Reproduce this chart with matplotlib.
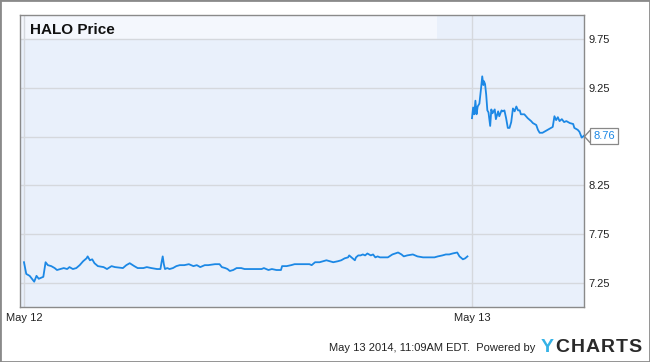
import matplotlib
matplotlib.use('Agg')
import matplotlib.pyplot as plt
from matplotlib.patches import Rectangle
from matplotlib.path import Path

plt.rcParams['font.family'] = ['Liberation Sans', 'DejaVu Sans']

# 数据：交易分钟数（从开盘算起）与价格
may12_min = [0, 2, 5, 7, 9, 11, 13, 15, 17, 19,
             21, 24, 27, 29, 32, 35, 38, 40, 43, 46,
             49, 52, 55, 56, 58, 60, 62, 65, 70, 73,
             77, 80, 87, 90, 93, 97, 100, 105, 108, 112,
             117, 120, 121, 122, 123, 124, 126, 128, 131, 134,
             137, 141, 145, 149, 152, 155, 159, 162, 168, 172,
             174, 177, 179, 181, 184, 187, 191, 194, 199, 204,
             209, 211, 213, 215, 218, 222, 226, 227, 231, 235,
             238, 242, 247, 251, 253, 256, 260, 263, 266, 269,
             272, 276, 279, 282, 285, 286, 289, 291, 292, 294,
             296, 298, 300, 302, 305, 307, 309, 311, 313, 316,
             320, 324, 329, 332, 334, 337, 342, 346, 351, 357,
             361, 364, 368, 371, 374, 377, 381, 383, 386, 388,
             390]
may12_price = [7.46, 7.34, 7.32, 7.29, 7.26, 7.32, 7.29, 7.30, 7.31, 7.46,
               7.43, 7.42, 7.40, 7.38, 7.39, 7.40, 7.39, 7.41, 7.39, 7.40,
               7.43, 7.47, 7.50, 7.52, 7.48, 7.49, 7.45, 7.42, 7.41, 7.39,
               7.42, 7.41, 7.40, 7.43, 7.45, 7.42, 7.40, 7.40, 7.41, 7.40,
               7.39, 7.39, 7.46, 7.52, 7.44, 7.39, 7.40, 7.39, 7.40, 7.42,
               7.43, 7.43, 7.44, 7.42, 7.43, 7.41, 7.43, 7.43, 7.44, 7.44,
               7.41, 7.40, 7.39, 7.37, 7.38, 7.40, 7.40, 7.39, 7.39, 7.39,
               7.39, 7.40, 7.39, 7.38, 7.39, 7.38, 7.38, 7.42, 7.42, 7.43,
               7.44, 7.44, 7.44, 7.44, 7.43, 7.46, 7.46, 7.47, 7.48, 7.47,
               7.46, 7.47, 7.48, 7.50, 7.51, 7.53, 7.50, 7.48, 7.51, 7.53,
               7.53, 7.54, 7.53, 7.55, 7.53, 7.54, 7.51, 7.52, 7.51, 7.51,
               7.51, 7.54, 7.56, 7.54, 7.52, 7.53, 7.54, 7.52, 7.51, 7.51,
               7.51, 7.52, 7.53, 7.54, 7.54, 7.55, 7.56, 7.52, 7.49, 7.50,
               7.52]

may13_min = [0, 1, 2, 3, 4, 5, 6.5, 8, 9, 10,
             10.5, 11.5, 12.5, 13.5, 14.5, 16, 17, 18, 20, 21,
             23, 24, 26, 27, 28.5, 30, 31.5, 33, 34.5, 36,
             37.5, 39, 40.5, 42, 43, 46, 49, 52, 53.5, 56.5,
             58, 59.5, 62, 65, 68, 71, 72.5, 74, 75.5, 77,
             79, 81, 83, 86, 89, 90, 93, 94.5, 96.5, 98.5]
may13_price = [8.94, 9.05, 8.98, 9.12, 8.98, 9.06, 9.09, 9.25, 9.37, 9.28,
               9.32, 9.29, 9.18, 9.02, 9.00, 8.86, 9.03, 8.99, 9.03, 8.93,
               9.01, 8.96, 9.02, 9.01, 9.02, 8.94, 8.84, 8.84, 8.90, 9.04,
               9.01, 9.06, 9.02, 9.02, 8.98, 8.98, 8.94, 8.91, 8.89, 8.87,
               8.82, 8.79, 8.79, 8.81, 8.83, 8.85, 8.96, 8.92, 8.95, 8.91,
               8.93, 8.90, 8.91, 8.89, 8.88, 8.84, 8.82, 8.80, 8.74, 8.76]

day_labels = ['May 12', 'May 13']
day_start = [0, 394]          # 两个交易日在横轴上的起点
y_ticks = [7.25, 7.75, 8.25, 8.75, 9.25, 9.75]

line_color = '#1c88e5'
grid_color = '#d5d8dd'
frame_color = '#8a8a8a'

fig = plt.figure(figsize=(6.5, 3.62), dpi=100)
ax = fig.add_axes([20 / 650, 1 - 307 / 362, 564 / 650, 292 / 362])
ax.set_facecolor('#e9f0fb')

x12 = [day_start[0] + m for m in may12_min]
x13 = [day_start[1] + m for m in may13_min]
ax.plot(x12, may12_price, color=line_color, lw=1.3, zorder=3)
ax.plot(x13, may13_price, color=line_color, lw=1.3, zorder=3)

ax.set_xlim(-3.5, x13[-1])
ax.set_ylim(7.0, 10.0)

last = may13_price[-1]
ax.set_axisbelow(True)
ax.grid(True, color=grid_color, lw=1)
ax.set_xticks(day_start)
ax.set_xticklabels(day_labels)
ax.set_yticks(y_ticks)
# 8.75 的刻度文字被最新价格标签盖住
ax.set_yticklabels(['' if abs(v - last) < 0.05 else f'{v:.2f}' for v in y_ticks])
ax.yaxis.tick_right()
ax.tick_params(axis='y', length=0, pad=3.5, labelsize=8, labelcolor='#222222')
ax.tick_params(axis='x', length=0, pad=4.5, labelsize=8, labelcolor='#222222')
for s in ax.spines.values():
    s.set_color(frame_color)
    s.set_linewidth(1)

# 标题条
ax.add_patch(Rectangle((0, (9.75 - 7.0) / 3.0), 0.74, 1 - (9.75 - 7.0) / 3.0,
                       transform=ax.transAxes, facecolor='#f4f7fd',
                       edgecolor='none', zorder=0.1))
ax.text(0.018, 0.935, 'HALO Price', transform=ax.transAxes, fontsize=11,
        fontweight='bold', color='#111111', va='baseline', ha='left')

# 最新价格标签
chevron = Path([(0.9, 1.0), (0.0, 0.0), (0.9, -1.0)],
               [Path.MOVETO, Path.LINETO, Path.LINETO])
ax.plot([x13[-1]], [last], marker=chevron, markersize=9,
        markerfacecolor='none', markeredgecolor='#888888', mew=1,
        clip_on=False, zorder=5)
ax.annotate(f'{last:.2f}', xy=(x13[-1], last),
            xytext=(6.5, 0), textcoords='offset points', fontsize=8,
            color=line_color, va='center', ha='left', annotation_clip=False,
            bbox=dict(boxstyle='square,pad=0.28', facecolor='white',
                      edgecolor='#888888', lw=0.9))

# 页脚
fig.text(535 / 650, 1 - 348 / 362, 'May 13 2014, 11:09AM EDT.  Powered by',
         fontsize=8, color='#222222', ha='right', va='center')
logo_x = [547, 562, 577.5, 593, 608, 622, 635]
for ch, px in zip('YCHARTS', logo_x):
    fig.text(px / 650, 1 - 347.5 / 362, ch, fontsize=14, fontweight='bold',
             color='#35b2e6' if ch == 'Y' else '#2a2a2a',
             ha='center', va='center')

fig.add_artist(Rectangle((0, 0), 1, 1, transform=fig.transFigure, fill=False,
                         edgecolor=frame_color, lw=2))

fig.savefig('out.png', dpi=100)
